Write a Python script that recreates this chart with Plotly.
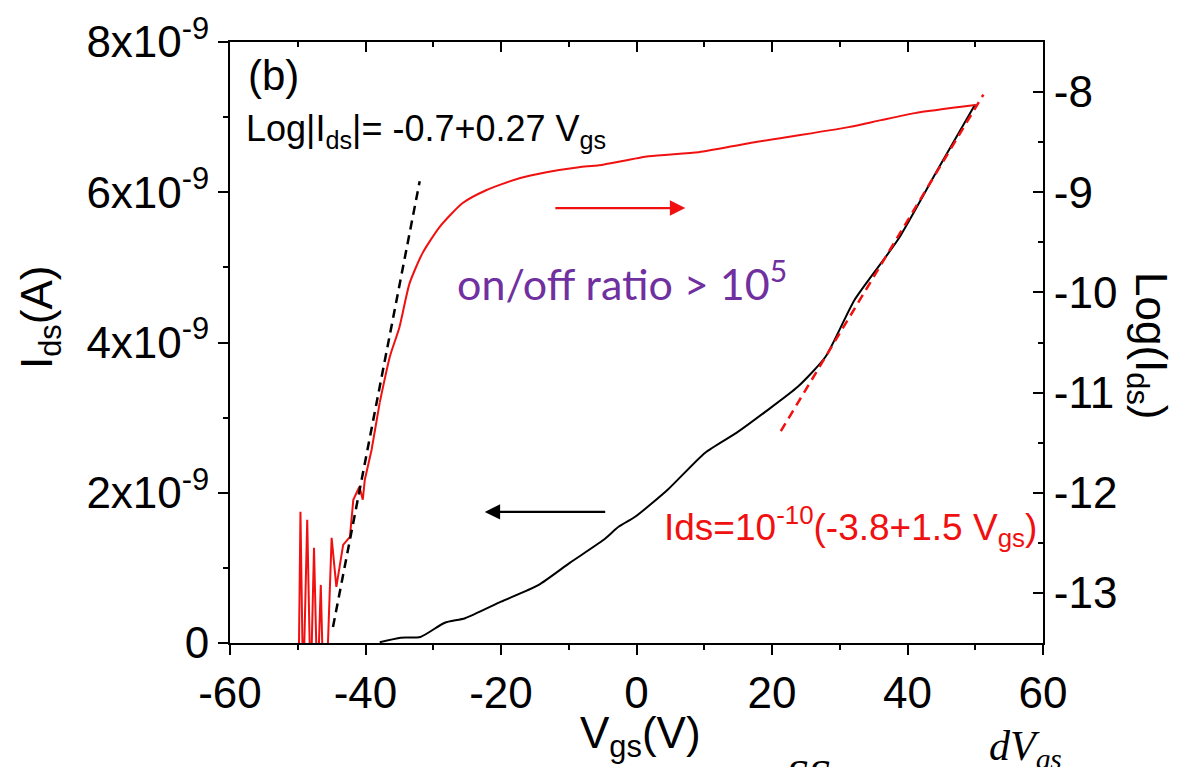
import plotly.graph_objects as go

# Gate voltage sweep, forward branch: log10(Ids) on the right axis
# (noisy off-state segment, then the turn-on / saturation segment)
red_noise_v = [-49.9, -49.6, -49.2, -48.6, -48.1, -47.6, -47.1, -46.6, -46.2, -45.8,
               -45.0, -44.3, -43.3, -42.3, -41.8, -40.9, -40.4, -40.1, -39.1, -37.9]
red_noise_log = [-14.0, -12.19, -14.0, -12.27, -14.0, -12.55, -14.0, -12.92, -14.0, -14.0,
                 -12.45, -12.94, -12.52, -12.44, -12.07, -11.94, -12.07, -11.87, -11.57, -11.10]
red_on_v = [-37.9, -36.4, -35.0, -33.5, -31.6, -29.1, -25.7, -22.2, -17.3, -13.3,
            -8.5, -5.5, 1.8, 9.2, 16.6, 31.3, 36.1, 41.1, 50.0]
red_on_log = [-11.10, -10.64, -10.35, -9.91, -9.61, -9.35, -9.11, -8.98, -8.86, -8.80,
              -8.75, -8.73, -8.64, -8.60, -8.51, -8.35, -8.28, -8.21, -8.13]

# Reverse branch: linear Ids (A) on the left axis
black_v = [-37.9, -34.8, -31.9, -28.3, -25.3, -20.0, -14.5, -9.8, -4.9, -2.6,
           -0.2, 4.6, 10.1, 14.8, 18.9, 23.8, 27.9, 32.2, 38.6, 44.5, 50.0]
black_i = [0.01e-9, 0.07e-9, 0.08e-9, 0.27e-9, 0.33e-9, 0.55e-9, 0.77e-9, 1.07e-9, 1.37e-9, 1.55e-9,
           1.68e-9, 2.04e-9, 2.53e-9, 2.80e-9, 3.07e-9, 3.41e-9, 3.81e-9, 4.57e-9, 5.37e-9, 6.31e-9, 7.17e-9]

# Fit lines
log_fit_v = [-44.8, -32.0]
log_fit_val = [-13.34, -8.89]
lin_fit_v = [21.3, 51.2]
lin_fit_i = [2.82e-9, 7.30e-9]

# Axis ticks
x_ticks = [-60, -40, -20, 0, 20, 40, 60]
x_tick_text = ["-60", "-40", "-20", "0", "20", "40", "60"]
left_ticks = [0, 2e-9, 4e-9, 6e-9, 8e-9]
left_tick_text = ["0", "2x10<sup>-9</sup>", "4x10<sup>-9</sup>", "6x10<sup>-9</sup>", "8x10<sup>-9</sup>"]
right_ticks = [-13, -12, -11, -10, -9, -8]
right_tick_text = ["-13", "-12", "-11", "-10", "-9", "-8"]

RED = "#f01010"
FONT = "Liberation Sans, Arial, sans-serif"
SERIF = "Liberation Serif, Times New Roman, serif"

fig = go.Figure()
fig.add_trace(go.Scatter(x=red_noise_v, y=red_noise_log, yaxis="y2", mode="lines",
                         line=dict(color=RED, width=2)))
fig.add_trace(go.Scatter(x=red_on_v, y=red_on_log, yaxis="y2", mode="lines",
                         line=dict(color=RED, width=2, shape="spline", smoothing=0.6)))
fig.add_trace(go.Scatter(x=black_v, y=black_i, mode="lines",
                         line=dict(color="black", width=2, shape="spline", smoothing=0.6)))
fig.add_trace(go.Scatter(x=log_fit_v, y=log_fit_val, yaxis="y2", mode="lines",
                         line=dict(color="black", width=2.5, dash="9px,6px")))
fig.add_trace(go.Scatter(x=lin_fit_v, y=lin_fit_i, mode="lines",
                         line=dict(color=RED, width=2.5, dash="9px,6px")))
# carrier trace so the top tick axis is drawn
fig.add_trace(go.Scatter(x=[0], y=[0], xaxis="x2", mode="markers",
                         marker=dict(opacity=0), hoverinfo="skip"))

axis_common = dict(showgrid=False, zeroline=False, linecolor="black", linewidth=2,
                   tickcolor="black", tickwidth=2, ticklen=10)
minor_out = dict(ticks="outside", ticklen=5, tickwidth=2, tickcolor="black")
minor_in = dict(ticks="inside", ticklen=5, tickwidth=2, tickcolor="black")

fig.update_layout(
    width=1188, height=767,
    margin=dict(l=230, r=145, t=42, b=124),
    plot_bgcolor="white", paper_bgcolor="white",
    showlegend=False,
    font=dict(family=FONT, color="black"),
    xaxis=dict(range=[-60, 60], tickmode="array", tickvals=x_ticks, ticktext=x_tick_text,
               ticks="outside", showline=True, mirror=True,
               minor=dict(tick0=-50, dtick=20, **minor_out),
               tickfont=dict(size=44, family=FONT), **axis_common),
    xaxis2=dict(range=[-60, 60], overlaying="x", side="top", tickmode="array",
                tickvals=x_ticks, ticks="inside", showticklabels=False, showline=False,
                minor=dict(tick0=-50, dtick=20, **minor_in), **axis_common),
    yaxis=dict(range=[0, 8e-9], tickmode="array", tickvals=left_ticks, ticktext=left_tick_text,
               ticks="outside", showline=True,
               minor=dict(tick0=1e-9, dtick=2e-9, **minor_out),
               tickfont=dict(size=44, family=FONT), **axis_common),
    yaxis2=dict(range=[-13.5, -7.5], overlaying="y", side="right", tickmode="array",
                tickvals=right_ticks, ticktext=right_tick_text, ticks="inside", showline=True,
                minor=dict(tick0=-12.5, dtick=1, **minor_in),
                tickfont=dict(size=44, family=FONT), **axis_common),
)


def px_x(px):
    return (px - 230) / 813


def px_y(py):
    return (643 - py) / 601


annotations = [
    # axis titles
    dict(text="V<sub>gs</sub>(V)", xref="paper", yref="paper", x=px_x(640), y=px_y(736),
         xanchor="center", yanchor="middle", showarrow=False, font=dict(size=44, family=FONT)),
    dict(text="I<sub>ds</sub>(A)", xref="paper", yref="paper", x=px_x(40), y=px_y(318),
         xanchor="center", yanchor="middle", textangle=-90, showarrow=False,
         font=dict(size=44, family=FONT)),
    dict(text="Log(I<sub>ds</sub>)", xref="paper", yref="paper", x=px_x(1148), y=px_y(345),
         xanchor="center", yanchor="middle", textangle=90, showarrow=False,
         font=dict(size=44, family=FONT)),
    # panel text
    dict(text="(b)", x=-57.6, y=7.56e-9, xanchor="left", yanchor="middle", showarrow=False,
         font=dict(size=42, family=FONT)),
    dict(text="Log|I<sub>ds</sub>|= -0.7+0.27 V<sub>gs</sub>", x=-58.0, y=6.82e-9,
         xanchor="left", yanchor="middle", showarrow=False, font=dict(size=36, family=FONT)),
    dict(text="on/off ratio > 10<sup>5</sup>", x=-26.8, y=4.82e-9, xanchor="left",
         yanchor="middle", showarrow=False,
         font=dict(size=43, family="Lato, Carlito, sans-serif", color="#7030a0")),
    dict(text="Ids=10<sup>-10</sup>(-3.8+1.5 V<sub>gs</sub>)", x=3.7, y=1.55e-9,
         xanchor="left", yanchor="middle", showarrow=False,
         font=dict(size=37, family=FONT, color=RED)),
    # sweep direction arrows
    dict(x=7.2, y=5.79e-9, ax=-12.2, ay=5.79e-9, xref="x", yref="y", axref="x", ayref="y",
         showarrow=True, arrowhead=2, arrowsize=1.4, arrowwidth=2.2, arrowcolor=RED, text=""),
    dict(x=-22.4, y=1.745e-9, ax=-4.4, ay=1.745e-9, xref="x", yref="y", axref="x", ayref="y",
         showarrow=True, arrowhead=2, arrowsize=1.4, arrowwidth=2.2, arrowcolor="black", text=""),
    # text of the page below the figure
    dict(text="<i>dV<sub>gs</sub></i>", xref="paper", yref="paper", x=px_x(1025), y=px_y(749),
         xanchor="center", yanchor="middle", showarrow=False, font=dict(size=42, family=SERIF)),
    dict(text="<i>SS</i>", xref="paper", yref="paper", x=px_x(808), y=px_y(749),
         xanchor="center", yanchor="top", showarrow=False, font=dict(size=44, family=SERIF)),
]
fig.update_layout(annotations=annotations)

fig.write_html("out.html")
